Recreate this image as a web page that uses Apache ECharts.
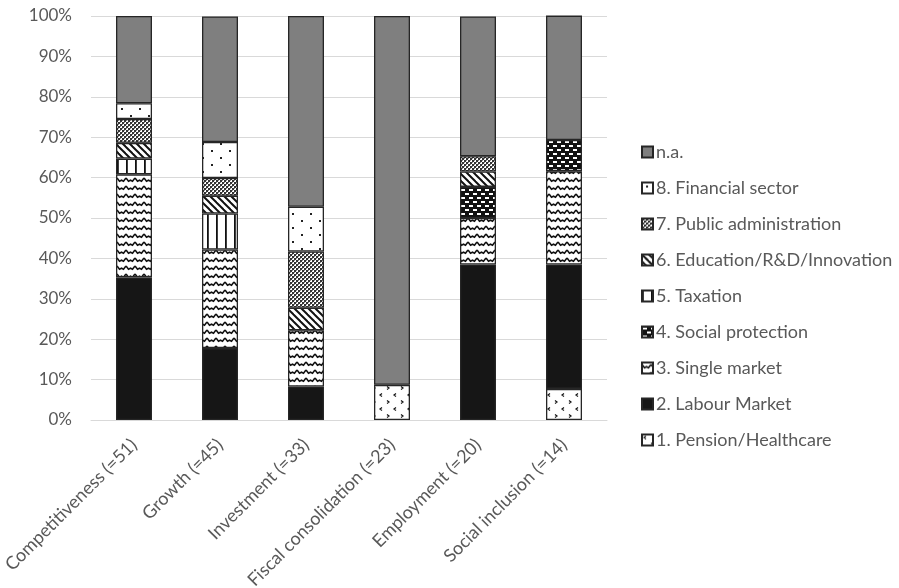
<!DOCTYPE html>
<html>
<head>
<meta charset="utf-8">
<script src="https://cdn.jsdelivr.net/npm/echarts@6/dist/echarts.min.js"></script>
<style>
html,body{margin:0;padding:0;background:#fff;}
#chart{width:899px;height:588px;}
</style>
</head>
<body>
<div id="chart"></div>
<script>
// ---- Data (percent of each category) ----
const categories = ['Competitiveness (=51)', 'Growth (=45)', 'Investment (=33)', 'Fiscal consolidation (=23)', 'Employment (=20)', 'Social inclusion (=14)'];
const seriesNames = ['1. Pension/Healthcare', '2. Labour Market', '3. Single market', '4. Social protection', '5. Taxation', '6. Education/R&D/Innovation', '7. Public administration', '8. Financial sector', 'n.a.'];
const pension     = [0,    0,    0,    8.7,  0,    7.7];
const labour      = [35.3, 17.8, 8.3,  0,    38.5, 30.8];
const singleMkt   = [25.5, 24.4, 13.9, 0,    11.5, 23.1];
const socialProt  = [0,    0,    0,    0,    7.7,  7.7];
const taxation    = [3.9,  8.9,  0,    0,    0,    0];
const education   = [3.9,  4.4,  5.6,  0,    3.8,  0];
const publicAdmin = [5.9,  4.4,  13.9, 0,    3.8,  0];
const financial   = [3.9,  8.9,  11.1, 0,    0,    0];
const na          = [21.6, 31.1, 47.2, 91.3, 34.6, 30.8];
const yTicks = [0, 10, 20, 30, 40, 50, 60, 70, 80, 90, 100];

// ---- Patterns ----
function tile(w, h, bg, draw) {
  const c = document.createElement('canvas');
  c.width = w; c.height = h;
  const g = c.getContext('2d');
  g.fillStyle = bg; g.fillRect(0, 0, w, h);
  draw(g);
  return { image: c, repeat: 'repeat' };
}
const patPension = tile(14, 14, '#fff', g => {
  g.strokeStyle = '#111'; g.lineWidth = 1.2;
  g.beginPath(); g.moveTo(4, 1.5); g.lineTo(2, 3); g.lineTo(4, 4.5); g.stroke();
  g.beginPath(); g.moveTo(9, 8.5); g.lineTo(11, 10); g.lineTo(9, 11.5); g.stroke();
});
const patWave = tile(9, 8, '#fff', g => {
  g.strokeStyle = '#111'; g.lineWidth = 1.6;
  g.beginPath(); g.moveTo(0, 2); g.lineTo(2.5, 5.2); g.lineTo(4.5, 4.2); g.lineTo(6.5, 5.2); g.lineTo(9, 2); g.stroke();
});
const patSocial = tile(8, 8, '#111', g => {
  g.fillStyle = '#fff';
  g.fillRect(1, 1, 4, 2);
  g.fillRect(5, 5, 3, 2);
  g.fillRect(0, 5, 1, 2);
});
const patTax = tile(9, 4, '#fff', g => {
  g.fillStyle = '#111'; g.fillRect(0, 0, 1.8, 4);
});
const patEdu = tile(7, 7, '#fff', g => {
  g.strokeStyle = '#111'; g.lineWidth = 2;
  g.beginPath(); g.moveTo(-1, -1); g.lineTo(8, 8); g.stroke();
  g.beginPath(); g.moveTo(-1, 6); g.lineTo(1, 8); g.stroke();
  g.beginPath(); g.moveTo(6, -1); g.lineTo(8, 1); g.stroke();
});
const patAdmin = tile(4, 4, '#fff', g => {
  g.fillStyle = '#333';
  g.fillRect(0, 0, 2, 2); g.fillRect(2, 2, 2, 2);
  g.fillStyle = '#888'; g.fillRect(2, 0, 1, 1); g.fillRect(0, 2, 1, 1);
});
const patFin = tile(18, 14, '#fff', g => {
  g.fillStyle = '#222';
  g.fillRect(4, 3, 2, 2); g.fillRect(13, 10, 2, 2);
});

const dataSets = [pension, labour, singleMkt, socialProt, taxation, education, publicAdmin, financial, na];
const fills = [patPension, '#161616', patWave, patSocial, patTax, patEdu, patAdmin, patFin, '#7f7f7f'];

const series = seriesNames.map((name, i) => ({
  name: name,
  type: 'bar',
  stack: 'total',
  barWidth: 36,
  itemStyle: { color: fills[i], borderColor: '#262626', borderWidth: 1.3 },
  emphasis: { disabled: true },
  data: dataSets[i].map(v => (v === 0 ? '-' : v))
}));

const FONT = 'Lato, "Open Sans", sans-serif';
const chart = echarts.init(document.getElementById('chart'), null, { renderer: 'canvas' });
chart.setOption({
  animation: false,
  backgroundColor: '#fff',
  textStyle: { fontFamily: FONT },
  grid: { left: 91, right: 292, top: 16, bottom: 168, containLabel: false, outerBoundsMode: 'none' },
  xAxis: {
    type: 'category',
    data: categories,
    axisLine: { lineStyle: { color: '#d9d9d9', width: 1 } },
    axisTick: { show: false },
    axisLabel: { interval: 0, rotate: 45, margin: 22, color: '#595959', fontSize: 18, fontFamily: FONT }
  },
  yAxis: {
    type: 'value',
    min: yTicks[0],
    max: yTicks[yTicks.length - 1],
    interval: 10,
    axisLine: { show: false },
    axisTick: { show: false },
    splitLine: { lineStyle: { color: '#d9d9d9', width: 1 } },
    axisLabel: { formatter: '{value}%', color: '#595959', fontSize: 17, margin: 19, fontFamily: FONT }
  },
  legend: {
    orient: 'vertical',
    left: 636,
    top: 138,
    itemWidth: 11,
    itemHeight: 11,
    itemGap: 18,
    icon: 'rect',
    selectedMode: false,
    data: seriesNames.slice().reverse(),
    textStyle: { color: '#595959', fontSize: 18, lineHeight: 18, padding: [0, 0, 0, -2], fontFamily: FONT }
  },
  series: series
});
</script>
</body>
</html>
